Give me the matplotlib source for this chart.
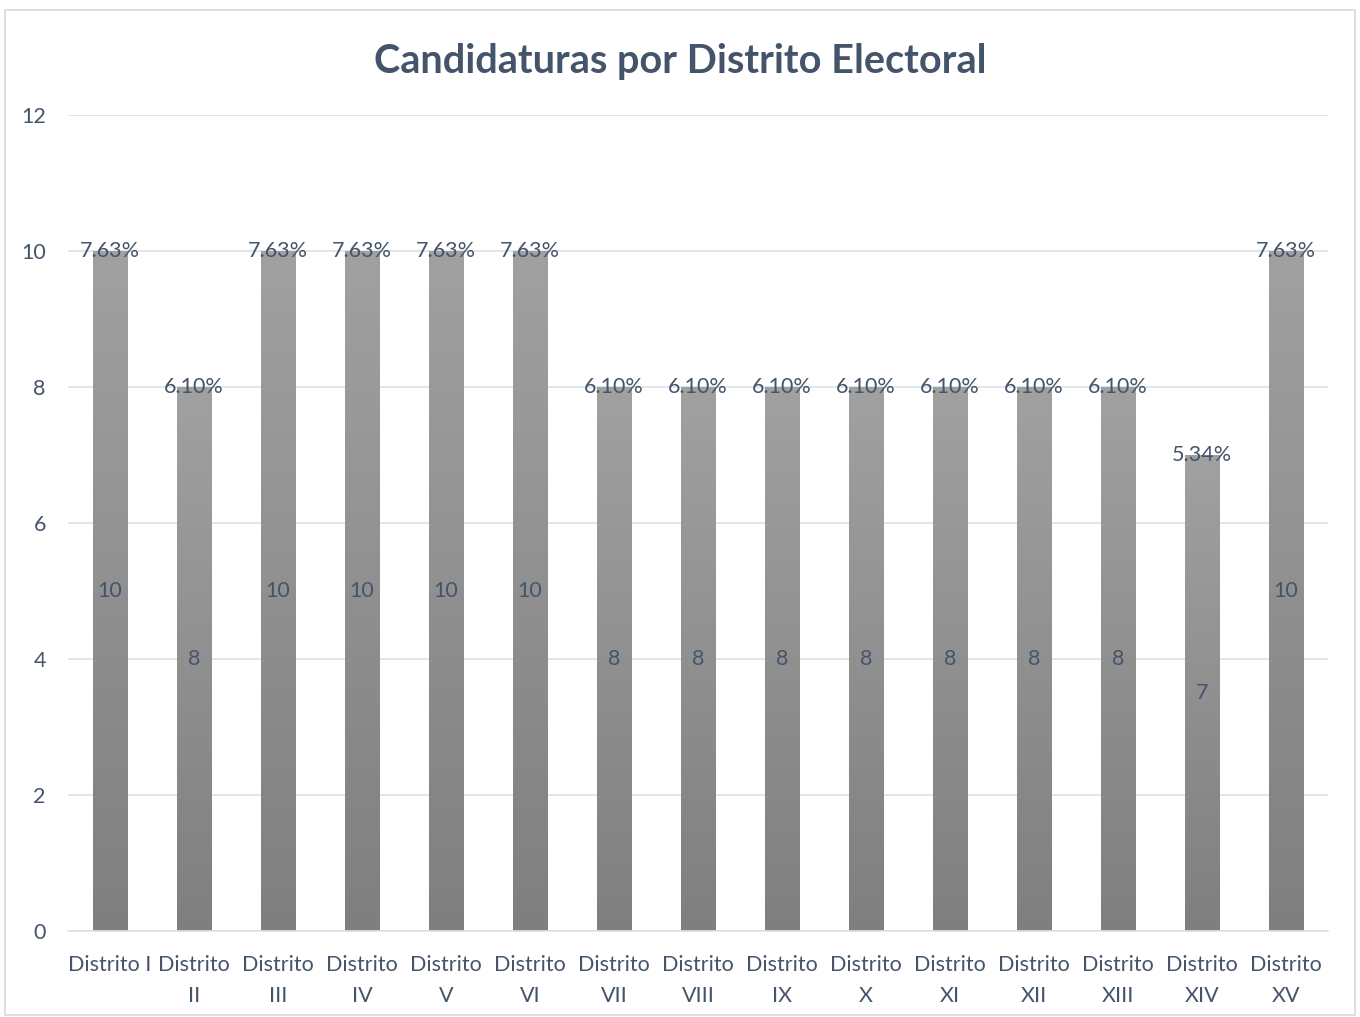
import numpy as np
import matplotlib
matplotlib.use("Agg")
import matplotlib.pyplot as plt
from matplotlib.colors import LinearSegmentedColormap
from matplotlib.patches import Rectangle

# data
districts = ["Distrito I", "Distrito\nII", "Distrito\nIII", "Distrito\nIV", "Distrito\nV",
             "Distrito\nVI", "Distrito\nVII", "Distrito\nVIII", "Distrito\nIX", "Distrito\nX",
             "Distrito\nXI", "Distrito\nXII", "Distrito\nXIII", "Distrito\nXIV", "Distrito\nXV"]
candidaturas = [10, 8, 10, 10, 10, 10, 8, 8, 8, 8, 8, 8, 8, 7, 10]
porcentajes = ["7.63%", "6.10%", "7.63%", "7.63%", "7.63%", "7.63%", "6.10%", "6.10%",
               "6.10%", "6.10%", "6.10%", "6.10%", "6.10%", "5.34%", "7.63%"]

TXT = "#44546A"
GRID = "#DDE1E8"
FS = 15.5
plt.rcParams.update({"font.family": ["Lato", "DejaVu Sans"]})

fig = plt.figure(figsize=(13.6, 10.17), dpi=100)
ax = fig.add_axes([0.05, 0.0846, 0.9265, 0.8024])
fig.patches.append(Rectangle((0.004, 0.002), 0.992, 0.988, transform=fig.transFigure,
                             fill=False, edgecolor="#D9D9D9", lw=1.2))

x = np.arange(len(districts))
w = 0.405
bars = ax.bar(x, candidaturas, width=w, color="none", zorder=2)
grad = LinearSegmentedColormap.from_list("g", ["#7F7F7F", "#A1A1A1"])
g = np.linspace(0, 1, 256).reshape(-1, 1)
for b in bars:
    x0, h = b.get_x(), b.get_height()
    im = ax.imshow(g, cmap=grad, origin="lower", aspect="auto",
                   extent=(x0, x0 + w, 0, h), zorder=2)
    im.set_clip_path(b)

for xi, v, p in zip(x, candidaturas, porcentajes):
    ax.text(xi, v / 2, str(v), ha="center", va="center", color=TXT, fontsize=FS, zorder=3)
    ax.text(xi, v, p, ha="center", va="center", color=TXT, fontsize=FS, zorder=3)

ax.set_xlim(-0.5, len(districts) - 0.5)
ax.set_ylim(0, 12)
ax.set_yticks(range(0, 13, 2))
ax.set_xticks(x)
ax.set_xticklabels(districts, fontsize=FS, color=TXT, linespacing=1.7)
ax.tick_params(axis="y", labelsize=FS, labelcolor=TXT, length=0, pad=16)
ax.tick_params(axis="x", length=0, pad=17)
ax.grid(axis="y", color=GRID, lw=1.2, zorder=0)
ax.set_axisbelow(True)
for s in ["top", "right", "left"]:
    ax.spines[s].set_visible(False)
ax.spines["bottom"].set_color(GRID)
ax.spines["bottom"].set_linewidth(1.2)

fig.text(0.5, 0.940, "Candidaturas por Distrito Electoral", ha="center", va="center",
         fontsize=28.5, fontweight="bold", color=TXT)

fig.savefig("out.png", dpi=100)
